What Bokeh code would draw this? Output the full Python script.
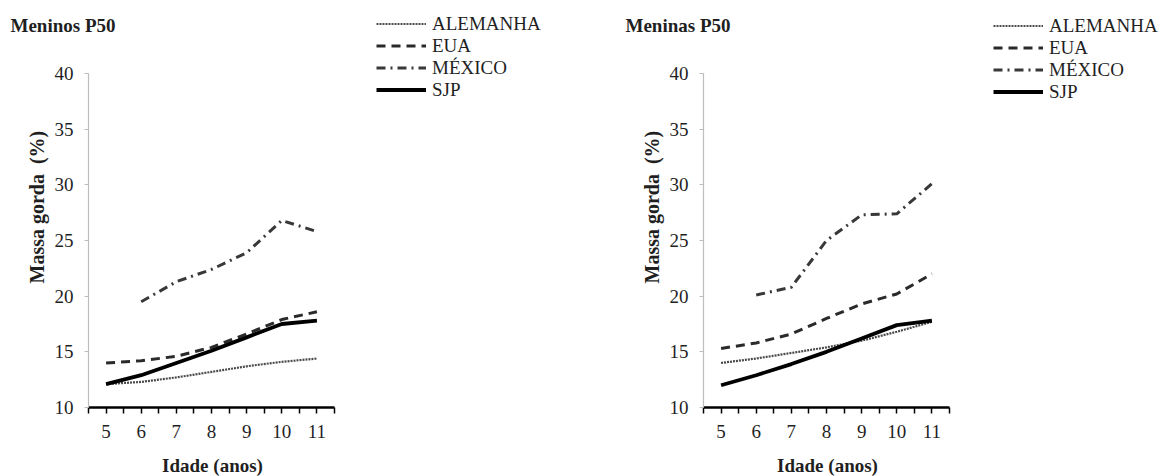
import numpy as np
from bokeh.plotting import figure
from bokeh.layouts import row
from bokeh.models import Range1d, FixedTicker, Legend, LegendItem, Label
from bokeh.embed import file_html
from bokeh.resources import INLINE

# Age categories (years) and y-axis ticks (% body fat)
ages = [5, 6, 7, 8, 9, 10, 11]
fat_ticks = [10, 15, 20, 25, 30, 35, 40]

series_names = ["ALEMANHA", "EUA", "MÉXICO", "SJP"]

# Boys, 50th percentile of body fat (%)
boys_alemanha = [12.1, 12.3, 12.7, 13.2, 13.7, 14.1, 14.4]
boys_eua = [14.0, 14.2, 14.6, 15.4, 16.6, 17.9, 18.6]
boys_mexico = [None, 19.5, 21.3, 22.4, 23.9, 26.8, 25.8]
boys_sjp = [12.1, 12.9, 14.0, 15.1, 16.3, 17.5, 17.8]

# Girls, 50th percentile of body fat (%)
girls_alemanha = [14.0, 14.4, 14.9, 15.4, 16.0, 16.8, 17.7]
girls_eua = [15.3, 15.8, 16.6, 18.0, 19.3, 20.2, 22.0]
girls_mexico = [None, 20.1, 20.8, 25.0, 27.3, 27.4, 30.1]
girls_sjp = [12.0, 12.9, 13.9, 15.0, 16.2, 17.4, 17.8]

FONT = "Liberation Serif"
FS = "19px"
TXT = "#1f1f1f"
H = 476
# pixel box of the axes inside each panel: left, top, width, height
FL, FT, FW, FH = 88, 73, 246, 334
X0, X1 = ages[0] - 0.5, ages[-1] + 0.5
Y0, Y1 = fat_ticks[0], fat_ticks[-1]
PX_X = FW / (X1 - X0)
PX_Y = FH / (Y1 - Y0)

STYLES = [
    dict(line_color="#4a4a4a", line_width=2.2, line_dash="2 1"),
    dict(line_color="#2a2a2a", line_width=3, line_dash="9 6"),
    dict(line_color="#383838", line_width=3, line_dash="9 5 2 5"),
    dict(line_color="#000000", line_width=3.8),
]


def to_data(sx, sy):
    """Pixel position inside a panel -> data coordinates."""
    return X0 + (sx - FL) / PX_X, Y0 + (FT + FH - sy) / PX_Y


def add_text(p, sx, sy, text, size=FS, angle=0.0, align="left"):
    x, y = to_data(sx, sy)
    p.add_layout(Label(x=x, y=y, text=text, angle=angle,
                       text_font=FONT, text_font_size=size, text_font_style="bold",
                       text_align=align, text_baseline="middle", text_color=TXT))


def make_chart(title, values, width, key_x, key_top):
    x_lo, y_hi = to_data(0, 0)
    x_hi, y_lo = to_data(width, H)
    p = figure(width=width, height=H,
               x_range=Range1d(x_lo, x_hi), y_range=Range1d(y_lo, y_hi),
               output_backend="svg", toolbar_location=None, min_border=0)
    p.title.visible = False
    p.outline_line_color = None
    p.xgrid.visible = False
    p.ygrid.visible = False
    p.background_fill_color = "white"
    p.border_fill_color = "white"

    # x axis: thick black line at 10 %, ticks every half year, labels on whole years
    xa = p.xaxis[0]
    xa.fixed_location = Y0
    xa.bounds = (X0, X1)
    xa.ticker = FixedTicker(ticks=ages,
                            minor_ticks=[a - 0.5 for a in ages] + [ages[-1] + 0.5])
    xa.axis_line_color = "black"
    xa.axis_line_width = 2.5
    xa.major_tick_in = 0
    xa.major_tick_out = 6
    xa.minor_tick_in = 0
    xa.minor_tick_out = 6
    xa.major_tick_line_color = "black"
    xa.minor_tick_line_color = "black"
    xa.major_tick_line_width = 1.5
    xa.minor_tick_line_width = 1.5
    xa.major_label_text_font = FONT
    xa.major_label_text_font_size = FS
    xa.major_label_text_color = TXT
    xa.major_label_standoff = 11

    # y axis: light grey line at 4.5 years with outside ticks
    ya = p.yaxis[0]
    ya.fixed_location = X0
    ya.bounds = (Y0, Y1)
    ya.ticker = FixedTicker(ticks=fat_ticks, minor_ticks=[])
    ya.axis_line_color = "#bdbdbd"
    ya.axis_line_width = 1.2
    ya.major_tick_in = 0
    ya.major_tick_out = 4
    ya.major_tick_line_color = "#bdbdbd"
    ya.minor_tick_line_color = None
    ya.major_label_text_font = FONT
    ya.major_label_text_font_size = FS
    ya.major_label_text_color = TXT
    ya.major_label_standoff = 11

    items = []
    for name, vals, style in zip(series_names, values, STYLES):
        r = p.line(ages, np.array(vals, dtype=float), line_join="round", **style)
        items.append(LegendItem(label=name, renderers=[r]))

    row_h = 21.7
    legend = Legend(items=items,
                    location=(key_x, H - key_top - len(items) * row_h),
                    glyph_width=50, glyph_height=21, label_height=21,
                    label_standoff=6, spacing=0, padding=0, margin=0,
                    border_line_alpha=0, background_fill_alpha=0,
                    label_text_font=FONT, label_text_font_size=FS,
                    label_text_color=TXT)
    p.add_layout(legend)

    add_text(p, 10, 25, title)
    add_text(p, 36, 283, "Massa gorda\u00a0\u00a0(%)", size="20px", angle=np.pi / 2)
    add_text(p, FL + FW / 2 + 1, 465, "Idade (anos)", align="center")
    return p


left = make_chart("Meninos P50", [boys_alemanha, boys_eua, boys_mexico, boys_sjp],
                  615, 376, 14)
right = make_chart("Meninas P50", [girls_alemanha, girls_eua, girls_mexico, girls_sjp],
                   545, 378, 16)

layout = row(left, right)
open("out.html", "w").write(file_html(layout, INLINE))
